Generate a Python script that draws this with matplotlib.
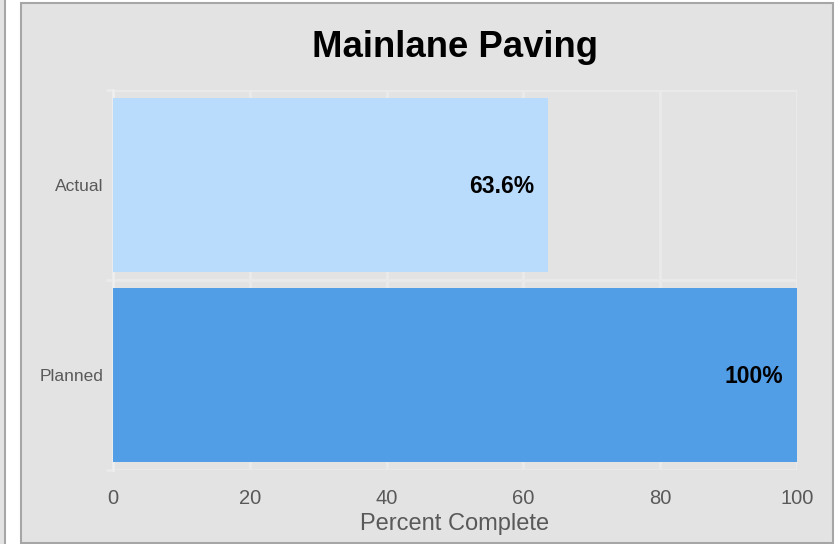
import matplotlib
matplotlib.use("Agg")
import matplotlib.pyplot as plt
from matplotlib.patches import Rectangle

plt.rcParams['font.family'] = ['Liberation Sans', 'DejaVu Sans']

categories = ['Planned', 'Actual']
values = [100, 63.6]
value_labels = ['100%', '63.6%']
bar_colors = ['#519de6', '#b9dcfd']
xticks = [0, 20, 40, 60, 80, 100]

W, H = 835, 544
fig = plt.figure(figsize=(W / 100, H / 100), dpi=100)
fig.patch.set_facecolor('white')

panel_bg = '#e3e3e3'
border = '#a6a6a6'

# neighbouring panel cut off at the left edge
fig.patches.append(Rectangle((-10 / W, -0.1), 15 / W, 1.2, transform=fig.transFigure,
                             facecolor=panel_bg, edgecolor=border, linewidth=1.5, zorder=-10))
# main panel
fig.patches.append(Rectangle((21 / W, 1 - 543 / H), 812 / W, 540 / H, transform=fig.transFigure,
                             facecolor=panel_bg, edgecolor=border, linewidth=1.5, zorder=-10))

ax = fig.add_axes([113 / W, 1 - 470 / H, 684 / W, 380 / H])
ax.set_facecolor(panel_bg)
ax.patch.set_alpha(0)

grid_c = '#eaeaea'
y = list(range(len(categories)))
bars = ax.barh(y, values, height=0.915, color=bar_colors, zorder=3)

for b, lab in zip(bars, value_labels):
    ax.annotate(lab, xy=(b.get_width(), b.get_y() + b.get_height() / 2),
                xytext=(-10, -1), textcoords='offset points',
                ha='right', va='center', fontsize=16.5, fontweight='bold', color='black', zorder=4)

ax.set_xlim(0, 100)
ax.set_ylim(-0.5, 1.5)
ax.set_xticks(xticks)
ax.set_xticklabels([str(t) for t in xticks])
ax.set_yticks(y)
ax.set_yticklabels(categories)
ax.set_yticks([-0.5, 0.5, 1.5], minor=True)

ax.tick_params(axis='x', length=0, pad=14, labelsize=14.5, labelcolor='#595959')
ax.tick_params(axis='y', which='major', length=0, pad=7, labelsize=12.5, labelcolor='#595959')
ax.tick_params(axis='y', which='minor', length=5, width=2, color=grid_c)

ax.grid(axis='x', color=grid_c, linewidth=2, zorder=1)
ax.grid(axis='y', which='minor', color=grid_c, linewidth=2, zorder=1)
ax.set_axisbelow(True)

for side in ['top', 'right', 'bottom']:
    ax.spines[side].set_visible(False)
ax.spines['left'].set_color('#eeeeee')
ax.spines['left'].set_linewidth(2)

ax.set_xlabel('Percent Complete', fontsize=17, color='#595959', labelpad=3)

fig.text(455 / W, 1 - 57 / H, 'Mainlane Paving', ha='center', va='baseline',
         fontsize=26.3, fontweight='bold', color='black')

fig.savefig('out.png', dpi=100)
